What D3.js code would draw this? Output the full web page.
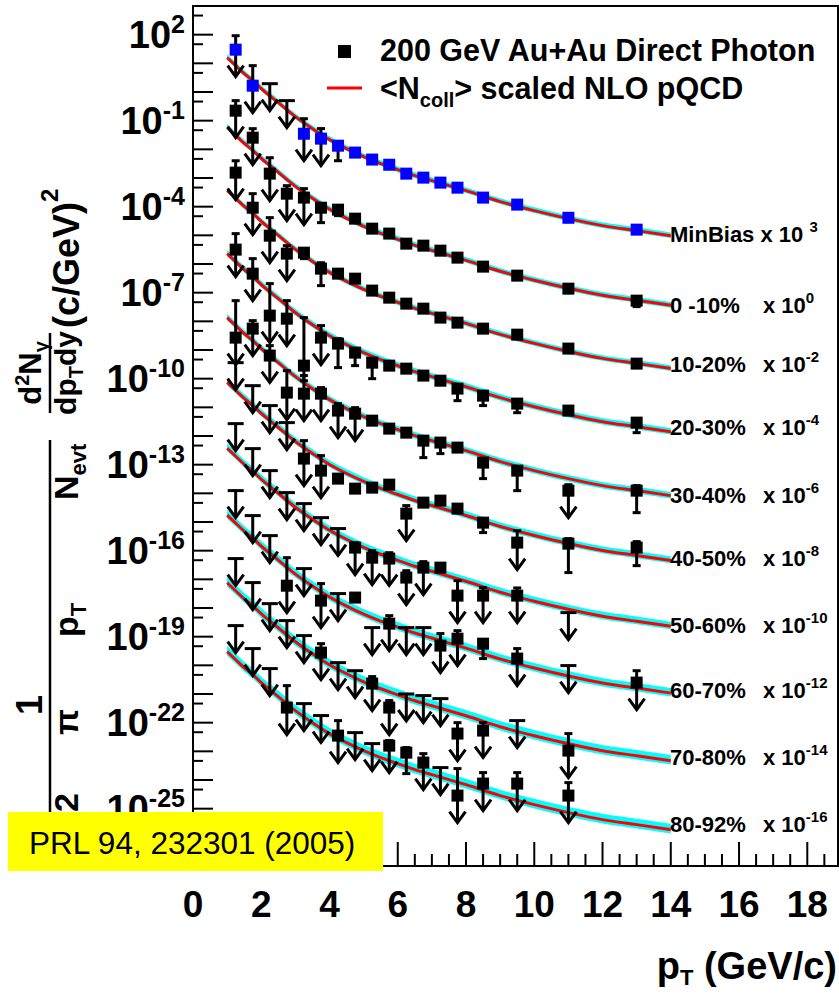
<!DOCTYPE html>
<html><head><meta charset="utf-8">
<script src="https://cdn.jsdelivr.net/npm/d3@7"></script>
<style>
body{margin:0;background:#fff}
text{font-family:"Liberation Sans",Arial,Helvetica,sans-serif;fill:#000}
</style>
</head><body>
<svg id="c" width="839" height="996"></svg>
<script>
// ---------------- data ----------------
const ptBins = [1.25,1.75,2.25,2.75,3.25,3.75,4.25,4.75,5.25,5.75,6.25,6.75,7.25,7.75,8.5,9.5,11,13];
const centralities = ["MinBias","0 -10%","10-20%","20-30%","30-40%","40-50%","50-60%","60-70%","70-80%","80-92%"];
const scaleExp = [3,0,-2,-4,-6,-8,-10,-12,-14,-16];
const nColl = [257.8,955.4,602.6,373.8,219.8,120.3,61.0,28.5,12.4,4.9];
// NLO pQCD (Ncoll-scaled, MinBias)
const nloPt = [1.0,1.25,1.5,1.75,2.0,2.5,3.0,3.5,4.0,4.5,5.0,5.5,6.0,6.5,7.0,7.5,8.0,9.0,10.0,11.0,12.0,13.0,14.0];
const nloMinBias = [0.0158,0.0083,0.00436,0.00249,0.00131,4.25e-4,1.38e-4,5.26e-5,2.18e-5,1.056e-5,5.56e-6,3.17e-6,1.95e-6,1.21e-6,8.09e-7,5.41e-7,3.62e-7,1.50e-7,7.27e-8,3.82e-8,2.18e-8,1.46e-8,9.75e-9];
const bandUp = [1.3,1.3,1.3,1.35,1.35,1.4,1.45,1.5,1.6,1.6];
const bandLo = [0.82,0.82,0.82,0.8,0.8,0.8,0.78,0.76,0.74,0.74];
// [value, errHigh, errLow]; value null => upper limit at errHigh; errLow 0 => arrow
const mbData = [[0.030,0.092,0],[1.66e-3,8.3e-3,0],[null,1.95e-3,0],[null,5.0e-4,0],[3.5e-5,1.17e-4,0],[2.36e-5,5.3e-5,0],[1.34e-5,1.8e-5,4.0e-6],[7.7e-6,8.5e-6,6.9e-6],[4.4e-6,4.8e-6,4.0e-6],[2.9e-6,3.2e-6,2.6e-6],[1.42e-6,1.55e-6,1.3e-6],[1.03e-6,1.12e-6,0.94e-6],[6.9e-7,7.5e-7,6.3e-7],[4.6e-7,5.0e-7,4.2e-7],[2.07e-7,2.25e-7,1.9e-7],[1.18e-7,1.28e-7,1.08e-7],[4.1e-8,4.5e-8,3.7e-8],[1.58e-8,1.75e-8,1.42e-8]];
const c0010 = [[0.223,0.50,0],[0.0255,0.0526,0],[1.42e-3,5.1e-3,0],[2.84e-4,5.4e-4,0],[2.07e-4,4.26e-4,0],[9.2e-5,1.27e-4,2.77e-5],[7.87e-5,1.09e-4,4.87e-5],[3.82e-5,4.3e-5,3.3e-5],[1.71e-5,1.9e-5,1.5e-5],[1.15e-5,1.28e-5,1.02e-5],[5.13e-6,5.7e-6,4.6e-6],[4.37e-6,4.8e-6,3.9e-6],[2.92e-6,3.2e-6,2.6e-6],[1.67e-6,1.85e-6,1.5e-6],[8.1e-7,9.0e-7,7.2e-7],[3.93e-7,4.4e-7,3.5e-7],[1.38e-7,1.55e-7,1.2e-7],[5.27e-8,6.2e-8,3.26e-8]];
const c1020 = [[0.154,0.40,0],[9.2e-3,0.0284,0],[9.75e-4,4.14e-3,0],[2.30e-4,4.37e-4,0],[2.49e-4,3.43e-4,1.54e-4],[6.9e-5,1.11e-4,1.76e-5],[4.61e-5,5.3e-5,3.9e-5],[3.08e-5,3.5e-5,2.6e-5],[1.18e-5,1.35e-5,1.0e-5],[6.7e-6,7.5e-6,5.9e-6],[4.14e-6,4.6e-6,3.7e-6],[2.77e-6,3.1e-6,2.45e-6],[1.35e-6,1.5e-6,1.2e-6],[9.0e-7,1.0e-6,8.0e-7],[5.56e-7,6.2e-7,4.9e-7],[3.43e-7,3.9e-7,3.0e-7],[1.12e-7,1.27e-7,9.8e-8],[3.35e-8,3.9e-8,2.8e-8]];
const c2030 = [[0.0317,0.1146,0],[4.61e-3,0.0154,0],[1.58e-4,2.07e-3,0],[1.24e-4,5.27e-4,0],[2.85e-6,1.35e-4,8.5e-7],[2.7e-5,7.1e-5,0],[1.67e-5,2.49e-5,2.43e-6],[8.1e-6,9.5e-6,2.85e-6],[3.62e-6,4.3e-6,1.0e-6],[2.85e-6,3.3e-6,2.4e-6],[2.24e-6,2.6e-6,1.9e-6],[1.28e-6,1.5e-6,1.05e-6],[8.5e-7,1.0e-6,7.0e-7],[4.5e-7,5.3e-7,1.71e-7],[2.56e-7,3.0e-7,1.15e-7],[1.35e-7,1.6e-7,6.5e-8],[7.7e-8,9.0e-8,6.5e-8],[2.93e-8,3.5e-8,1.31e-8]];
const c3040 = [[2.7e-3,0.0527,0],[5.56e-3,0.01057,0],[6.4e-4,1.42e-3,0],[3.26e-5,1.9e-4,0],[3.0e-5,1.28e-4,0],[3.0e-5,4.87e-5,0],[7.7e-6,1.35e-5,0],[6.0e-6,9.75e-6,0],[3.43e-6,4.0e-6,2.9e-6],[1.81e-6,2.1e-6,1.5e-6],[1.31e-6,1.55e-6,1.1e-6],[6.9e-7,8.2e-7,1.76e-7],[5.9e-7,7.0e-7,2.43e-7],[3.94e-7,4.6e-7,3.3e-7],[1.18e-7,1.4e-7,3.26e-8],[6.2e-8,7.5e-8,1.24e-8],[1.24e-8,2.0e-8,0],[1.24e-8,1.86e-8,2.12e-9]];
const c4050 = [[null,0.0362,0],[null,5.7e-3,0],[null,1.15e-3,0],[null,2.93e-4,0],[1.63e-5,6.9e-5,0],[6.2e-6,2.07e-5,0],[3.26e-6,3.9e-6,2.7e-6],[1.46e-6,1.75e-6,1.2e-6],[1.58e-6,1.9e-6,1.3e-6],[2.01e-6,2.4e-6,1.7e-6],[1.96e-7,3.73e-7,0],[4.74e-7,5.6e-7,4.0e-7],[5.57e-7,6.5e-7,4.7e-7],[2.93e-7,3.4e-7,2.5e-7],[9.5e-8,1.12e-7,4.27e-8],[1.91e-8,5.0e-8,0],[1.76e-8,2.63e-8,1.72e-9],[1.28e-8,2.07e-8,3.0e-9]];
const c5060 = [[null,0.027,0],[null,3.63e-3,0],[null,6.2e-4,0],[null,1.06e-4,0],[null,4.38e-5,0],[null,1.42e-5,0],[null,5.9e-6,0],[1.28e-6,1.91e-6,0],[5.7e-7,1.0e-6,0],[5.3e-7,8.5e-7,0],[1.15e-7,2.0e-7,0],[2.56e-7,4.15e-7,0],[2.56e-7,3.0e-7,2.2e-7],[2.7e-8,9.0e-8,0],[2.7e-8,5.1e-8,0],[2.7e-8,5.0e-8,0],[null,6.9e-9,0],[null,null,null]];
const c6070 = [[null,0.01245,0],[null,1.67e-3,0],[null,3.35e-4,0],[6.0e-6,5.7e-5,0],[null,2.37e-5,0],[1.81e-6,7.1e-6,0],[null,3.18e-6,0],[2.31e-6,2.8e-6,1.9e-6],[null,2.07e-7,0],[2.85e-7,5.4e-7,0],[null,2.07e-7,0],[null,2.07e-7,0],[4.88e-8,1.28e-7,0],[8.5e-8,1.62e-7,0],[5.7e-8,7.0e-8,1.72e-8],[1.72e-8,3.84e-8,0],[null,9.8e-9,0],[2.5e-9,6.5e-9,0]];
const c7080 = [[null,5.3e-3,0],[null,7.7e-4,0],[null,1.42e-4,0],[null,3.63e-5,0],[null,1.09e-5,0],[2.78e-6,5.7e-6,0],[null,1.24e-6,0],[null,6.5e-7,0],[2.31e-7,4.05e-7,0],[3.36e-8,5.9e-8,0],[null,1.0e-7,0],[null,8.8e-8,0],[null,6.9e-8,0],[4.16e-9,1.0e-8,0],[5.3e-9,1.0e-8,0],[null,1.18e-8,0],[1.06e-9,4.16e-9,0],[null,null,null]];
const c8092 = [[null,2.43e-3,0],[null,3.84e-4,0],[null,7.7e-5,0],[3.36e-6,1.96e-5,0],[null,4.62e-6,0],[null,1.77e-6,0],[3.54e-7,1.18e-6,0],[null,4.5e-7,0],[null,1.86e-7,0],[1.58e-7,2.37e-7,0],[9.0e-8,1.35e-7,1.67e-8],[4.05e-8,8.3e-8,0],[null,2.71e-8,0],[2.86e-9,2.5e-8,0],[7.5e-9,1.81e-8,0],[7.5e-9,1.81e-8,0],[2.86e-9,8.1e-9,0],[null,null,null]];
const seriesData = [mbData,c0010,c1020,c2030,c3040,c4050,c5060,c6070,c7080,c8092];
const xTickLabels = [0,2,4,6,8,10,12,14,16,18];
const yLabelExps = [2,-1,-4,-7,-10,-13,-16,-19,-22,-25];

// ---------------- drawing ----------------
const svg = d3.select("#c");
const W = 839, H = 996;
const L = 193, R = 838, T = 6, B = 866;
const x = d3.scaleLinear().domain([0,18.9]).range([L,R]);
const y = d3.scaleLog().domain([1e-27,1e3]).range([B,T]);

svg.append("rect").attr("width",W).attr("height",H).attr("fill","#fff");
svg.append("defs").append("clipPath").attr("id","clip")
  .append("rect").attr("x",L).attr("y",T).attr("width",R-L).attr("height",B-T);

const plot = svg.append("g").attr("clip-path","url(#clip)");

// theory curves
const curvePts = i => {
  const f = nColl[i]/nColl[0]*Math.pow(10,scaleExp[i]);
  return nloPt.map((p,j)=>({p, v:nloMinBias[j]*f}));
};
seriesData.forEach((d,i)=>{
  const area = d3.area().x(d=>x(d.p)).y0(d=>y(d.v*bandLo[i])).y1(d=>y(d.v*bandUp[i])).curve(d3.curveMonotoneX);
  plot.append("path").datum(curvePts(i)).attr("d",area).attr("fill","#00ffff");
});
seriesData.forEach((d,i)=>{
  const line = d3.line().x(d=>x(d.p)).y(d=>y(d.v)).curve(d3.curveMonotoneX);
  plot.append("path").datum(curvePts(i)).attr("d",line).attr("fill","none").attr("stroke","#ff0000").attr("stroke-width",3);
});

// data points
const ARROW = 27, SQ = 12;
seriesData.forEach((data,i)=>{
  const s = Math.pow(10,scaleExp[i]);
  const g = plot.append("g").attr("stroke","#000").attr("stroke-width",3).attr("fill","none");
  data.forEach((d,j)=>{
    const [v,hi,lo] = d;
    if(hi===null) return;
    const px = x(ptBins[j]);
    if(v===null){
      const yt = y(hi*s), tip = yt+ARROW;
      g.append("line").attr("x1",px-8).attr("x2",px+8).attr("y1",yt).attr("y2",yt);
      g.append("line").attr("x1",px).attr("x2",px).attr("y1",yt).attr("y2",tip);
      g.append("path").attr("d",`M${px-8},${tip-11}L${px},${tip}L${px+8},${tip-11}`);
      return;
    }
    const yv = y(v*s), yh = y(hi*s);
    const yl = lo===0 ? yv+ARROW : y(lo*s);
    g.append("line").attr("x1",px).attr("x2",px).attr("y1",yh).attr("y2",yl);
    g.append("line").attr("x1",px-4).attr("x2",px+4).attr("y1",yh).attr("y2",yh);
    if(lo===0){
      g.append("path").attr("d",`M${px-8},${yl-11}L${px},${yl}L${px+8},${yl-11}`);
    } else {
      g.append("line").attr("x1",px-4).attr("x2",px+4).attr("y1",yl).attr("y2",yl);
    }
  });
  const pts = data.map((d,j)=>({pt:ptBins[j], v:d[0]})).filter(d=>d.v!==null);
  plot.append("g").selectAll("rect").data(pts).enter().append("rect")
    .attr("x",d=>x(d.pt)-SQ/2).attr("y",d=>y(d.v*s)-SQ/2)
    .attr("width",SQ).attr("height",SQ)
    .attr("fill", i===0 ? "#0000ff" : "#000");
});

// frame
svg.append("rect").attr("x",L).attr("y",T).attr("width",R-L).attr("height",B-T)
  .attr("fill","none").attr("stroke","#000").attr("stroke-width",2);

// y ticks
const ax = svg.append("g").attr("stroke","#000").attr("stroke-width",2);
for(let k=-27;k<=3;k++){
  const yy = y(Math.pow(10,k));
  ax.append("line").attr("x1",L).attr("x2",L+20).attr("y1",yy).attr("y2",yy);
  if(k>-27){
    const ys = y(Math.pow(10,k-1/3));
    ax.append("line").attr("x1",L).attr("x2",L+10).attr("y1",ys).attr("y2",ys);
  }
}
// x ticks
for(let t=0;t<=18.5;t+=0.5){
  const xx = x(t);
  const len = (t%2===0) ? 24 : 12;
  ax.append("line").attr("x1",xx).attr("x2",xx).attr("y1",B).attr("y2",B-len);
}
// x labels
svg.append("g").selectAll("text").data(xTickLabels).enter().append("text")
  .attr("x",d=>x(d)).attr("y",917).attr("text-anchor","middle")
  .attr("font-size",37).attr("font-weight","bold").text(d=>d);
// y labels
yLabelExps.forEach(k=>{
  const yy = y(Math.pow(10,k));
  const t = svg.append("text").attr("x",185).attr("y",yy+13.5).attr("text-anchor","end")
    .attr("font-size",38).attr("font-weight","bold");
  t.append("tspan").text("10");
  t.append("tspan").attr("dy",-15).attr("font-size",25).text(k);
});
// x title
const xt = svg.append("text").attr("x",837).attr("y",979).attr("text-anchor","end")
  .attr("font-size",38).attr("font-weight","bold");
xt.append("tspan").text("p");
xt.append("tspan").attr("dy",6).attr("font-size",22).text("T");
xt.append("tspan").attr("dy",-6).text(" (GeV/c)");

// y title (rotated)
const yt = svg.append("g").attr("transform","rotate(-90)");
const bold = s=>s.attr("font-weight","bold");
// (c/GeV)^2
const cg = bold(yt.append("text").attr("x",-328).attr("y",79).attr("font-size",36));
cg.append("tspan").text("(c/GeV)");
cg.append("tspan").attr("dy",-21).attr("font-size",24).text("2");
// d2N/dpTdy
const n2 = bold(yt.append("text").attr("x",-373).attr("y",41).attr("text-anchor","middle").attr("font-size",31));
n2.append("tspan").text("d");
n2.append("tspan").attr("dy",-12).attr("font-size",20).text("2");
n2.append("tspan").attr("dy",12).text("N");
n2.append("tspan").attr("dy",7).attr("font-size",20).text("γ");
yt.append("line").attr("x1",-413).attr("x2",-333).attr("y1",50).attr("y2",50).attr("stroke","#000").attr("stroke-width",2.5);
const d2 = bold(yt.append("text").attr("x",-373).attr("y",76).attr("text-anchor","middle").attr("font-size",30));
d2.append("tspan").text("dp");
d2.append("tspan").attr("dy",7).attr("font-size",20).text("T");
d2.append("tspan").attr("dy",-7).text("dy");
// 1/(2 pi pT Nevt)
bold(yt.append("text").attr("x",-705).attr("y",42).attr("text-anchor","middle").attr("font-size",36)).text("1");
yt.append("line").attr("x1",-825).attr("x2",-440).attr("y1",50).attr("y2",50).attr("stroke","#000").attr("stroke-width",2.5);
bold(yt.append("text").attr("x",-812).attr("y",78).attr("font-size",34)).text("2");
bold(yt.append("text").attr("x",-735).attr("y",78).attr("font-size",34)).text("π");
const pT1 = bold(yt.append("text").attr("x",-637).attr("y",78).attr("font-size",34));
pT1.append("tspan").text("p");
pT1.append("tspan").attr("dy",8).attr("font-size",22).text("T");
const ne = bold(yt.append("text").attr("x",-500).attr("y",78).attr("font-size",34));
ne.append("tspan").text("N");
ne.append("tspan").attr("dy",8).attr("font-size",22).text("evt");

// legend
svg.append("rect").attr("x",338).attr("y",45).attr("width",13).attr("height",13).attr("fill","#000");
svg.append("text").attr("x",380).attr("y",61).attr("font-size",30.5).attr("font-weight","bold").text("200 GeV Au+Au Direct Photon");
svg.append("line").attr("x1",327).attr("x2",362).attr("y1",88).attr("y2",88).attr("stroke","#ff0000").attr("stroke-width",3);
const lg = svg.append("text").attr("x",380).attr("y",99).attr("font-size",30.5).attr("font-weight","bold");
lg.append("tspan").text("<N");
lg.append("tspan").attr("dy",8).attr("font-size",20).text("coll");
lg.append("tspan").attr("dy",-8).text("> scaled NLO pQCD");

// series labels
const labelY = [242,313,372,435,503,566,633,698,765,832];
centralities.forEach((c,i)=>{
  if(i===0){
    const t = svg.append("text").attr("x",670).attr("y",labelY[i]).attr("font-size",22).attr("font-weight","bold");
    t.append("tspan").text("MinBias x 10 ");
    t.append("tspan").attr("dy",-10).attr("font-size",15).text(scaleExp[i]);
  } else {
    svg.append("text").attr("x",670).attr("y",labelY[i]).attr("font-size",22).attr("font-weight","bold").text(c);
    const t = svg.append("text").attr("x",763).attr("y",labelY[i]).attr("font-size",22).attr("font-weight","bold");
    t.append("tspan").text("x 10");
    t.append("tspan").attr("dy",-10).attr("font-size",15).text(scaleExp[i]);
  }
});

// reference box
svg.append("rect").attr("x",8).attr("y",812).attr("width",375).attr("height",59).attr("fill","#ffff00");
svg.append("text").attr("x",29).attr("y",854).attr("font-size",31.5).text("PRL 94, 232301 (2005)");
</script>
</body></html>
